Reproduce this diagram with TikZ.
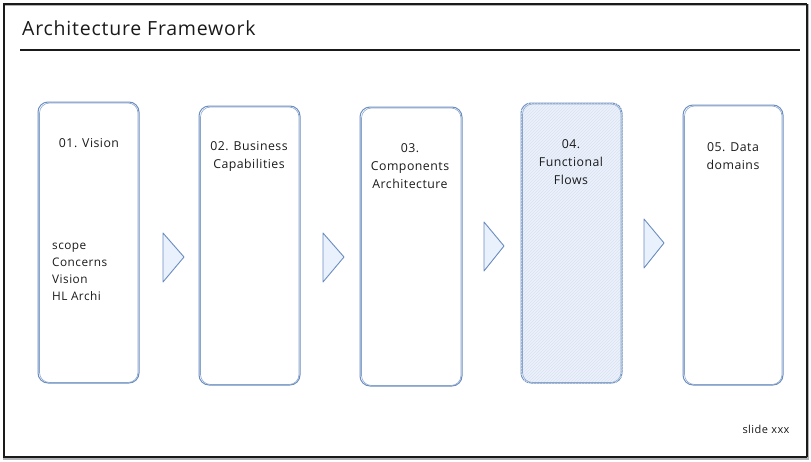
\documentclass[tikz,border=0pt]{standalone}
\usepackage{fontspec}
\setmainfont{Open Sans}
\usetikzlibrary{patterns}
\definecolor{strokeblue}{HTML}{6C8EBF}
\definecolor{fillblue}{HTML}{DAE8FC}
\definecolor{ink}{HTML}{1A1A1A}
\newfontfamily\widefont[LetterSpace=4]{Open Sans}
\tikzset{
  stage/.style={draw=strokeblue, line width=1pt, rounded corners=10pt, minimum width=100pt, minimum height=280pt, inner sep=0pt},
  stageb/.style={draw=strokeblue!80, line width=0.6pt, rounded corners=10pt},
  label/.style={font=\widefont\fontsize{12.3}{18}\selectfont, text=ink, align=center, inner sep=0pt},
  tri/.style={draw=strokeblue, line width=0.9pt, fill=fillblue!60, line join=round},
  title/.style={font=\widefont\fontsize{19.5}{22}\selectfont, text=ink, anchor=west, inner sep=0pt}
}
\begin{document}
\begin{tikzpicture}[x=1pt,y=-1pt]
\useasboundingbox (0,0) rectangle (811,461);
% outer frame
\draw[gray!60, line width=2.5pt] (4,5) rectangle (808,459);
\draw[ink, line width=1pt] (3,3) rectangle (806,457);
\draw[ink, line width=0.6pt] (4.5,4) rectangle (807,456);
% title
\node[title] (title) at (22,28) {Architecture Framework};
\draw[ink, line width=1.1pt] (20,50) -- (800,50);
% stages
\node[stage] (b1) at (88.5,242.5) [minimum width=101pt, minimum height=281pt] {};
\node[stage] (b2) at (249.5,245.5) [minimum width=101pt, minimum height=279pt] {};
\node[stage] (b3) at (411,246.5) [minimum width=102pt, minimum height=279pt] {};
\node[stage, fill=fillblue!55] (b4) at (571.5,243) [minimum width=101pt, minimum height=280pt] {};
\fill[pattern=north east lines, pattern color=strokeblue!25, rounded corners=10pt] (b4.north west) rectangle (b4.south east);
\node[stage] (b5) at (733,245) [minimum width=100pt, minimum height=280pt] {};
\foreach \b in {b1,b2,b3,b4,b5}{
  \draw[stageb] ([shift={(2,1.5)}]\b.north west) rectangle ([shift={(-1.5,-1)}]\b.south east);
}
% labels
\node[label] (l1) at (89,143) {01. Vision};
\node[label] (l2) at (249,156) {02. Business\\Capabilities};
\node[label] (l3) at (410,166) {03.\\Components\\Architecture};
\node[label] (l4) at (571,162) {04.\\Functional\\Flows};
\node[label] (l5) at (733,156) {05. Data\\domains};
\node[label, align=left, anchor=north west, font=\widefont\fontsize{11.8}{16.8}\selectfont] (v1) at (52,243) {scope\\Concerns\\Vision\\HL Archi};
\node[font=\widefont\fontsize{11}{13}\selectfont, text=ink, inner sep=0pt] (slide) at (766,429) {slide xxx};
% arrows between stages
\draw[tri] (163,233) -- (184,257) -- (163,282) -- cycle;
\draw[tri] (323,233) -- (344,257) -- (323,282) -- cycle;
\draw[tri] (484,222) -- (504,246) -- (484,271) -- cycle;
\draw[tri] (644,219) -- (664,243) -- (644,268) -- cycle;
\end{tikzpicture}
\end{document}
